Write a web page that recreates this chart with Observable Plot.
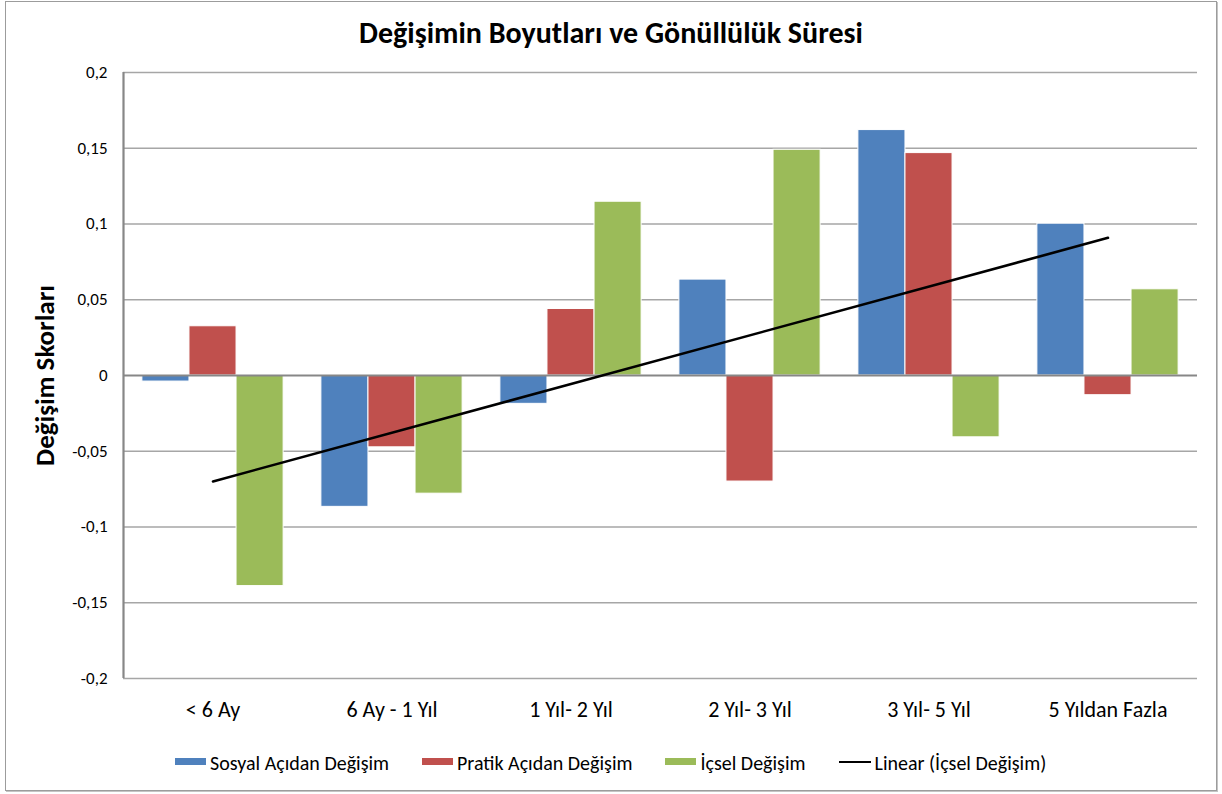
<!DOCTYPE html>
<html>
<head>
<meta charset="utf-8">
<script src="https://cdn.jsdelivr.net/npm/d3@7"></script>
<script src="https://cdn.jsdelivr.net/npm/@observablehq/plot@0.6"></script>
<style>
  html, body { margin: 0; padding: 0; background: #fff; }
  body { font-family: Carlito, Lato, sans-serif; }
  #wrap { position: relative; width: 1222px; height: 794px; overflow: hidden; background: #fff; }
  #frame { position: absolute; left: 5px; top: 1px; width: 1210px; height: 788px; border: 1px solid #9c9c9c; box-shadow: 1px 1px 0 #c4c4c4; }
  #title { position: absolute; left: 5px; top: 15px; width: 1212px; text-align: center; font-size: 30px; font-weight: bold; line-height: 36px; color: #000; }
  #chart { position: absolute; left: 0; top: 55px; }
  #legend { position: absolute; left: 175px; top: 751px; display: flex; align-items: center; font-size: 20px; color: #000; white-space: nowrap; }
  .item { display: flex; align-items: center; margin-right: 33px; }
  .sw { width: 31px; height: 7px; margin-right: 4px; margin-top: -3px; }
  .ln { width: 32px; height: 2.5px; background: #000; margin-right: 4px; margin-top: -2px; }
</style>
</head>
<body>
<div id="wrap">
  <div id="frame"></div>
  <div id="title">Değişimin Boyutları ve Gönüllülük Süresi</div>
  <div id="chart"></div>
  <div id="legend"></div>
</div>
<script>
// ---- data ----
const categories = ["< 6 Ay", "6 Ay - 1 Yıl", "1 Yıl- 2 Yıl", "2 Yıl- 3 Yıl", "3 Yıl- 5 Yıl", "5 Yıldan Fazla"];
const seriesNames = ["Sosyal Açıdan Değişim", "Pratik Açıdan Değişim", "İçsel Değişim"];
const sosyal = [-0.004, -0.0867, -0.0187, 0.0633, 0.162, 0.1002];
const pratik = [0.0325, -0.0474, 0.0439, -0.070, 0.1468, -0.013];
const icsel  = [-0.139, -0.078, 0.1147, 0.149, -0.0408, 0.0569];
const yTicks = [-0.2, -0.15, -0.1, -0.05, 0, 0.05, 0.1, 0.15, 0.2];
const trendName = "Linear (İçsel Değişim)";
const colors = ["#4f81bd", "#c0504d", "#9bbb59"];

// ---- build table ----
const seriesValues = [sosyal, pratik, icsel];
const barW = 0.263;
const rows = [];
seriesValues.forEach((vals, k) => {
  vals.forEach((v, i) => {
    const c = i + 1;
    rows.push({series: seriesNames[k], k, cat: c, x1: c - 1.5 * barW + k * barW, x2: c - 1.5 * barW + (k + 1) * barW, value: v});
  });
});

// linear trend of İçsel Değişim (least squares over category index)
const xs = icsel.map((_, i) => i + 1);
const mx = d3.mean(xs), my = d3.mean(icsel);
const slope = d3.sum(xs, (x, i) => (x - mx) * (icsel[i] - my)) / d3.sum(xs, x => (x - mx) ** 2);
const intercept = my - slope * mx;
const trend = [1, categories.length].map(x => ({x, y: intercept + slope * x}));

const fmt = d => String(d).replace(".", ",");
const idx = categories.map((_, i) => i + 1);

const plot = Plot.plot({
  width: 1222,
  height: 690,
  marginLeft: 123,
  marginRight: 25,
  marginTop: 17,
  marginBottom: 67,
  style: {fontFamily: "Carlito, Lato, sans-serif", background: "transparent"},
  x: {type: "linear", domain: [0.5, categories.length + 0.5], axis: null},
  y: {domain: [-0.2, 0.2], axis: null},
  color: {domain: seriesNames, range: colors},
  marks: [
    Plot.ruleY(yTicks.filter(d => d !== 0), {y: d => d, stroke: "#a6a6a6", strokeWidth: 1.5}),
    Plot.rectY(rows, {x1: "x1", x2: "x2", y1: 0, y2: "value", fill: "series", stroke: "white", strokeWidth: 1}),
    Plot.ruleY([0], {stroke: "#878787", strokeWidth: 2.2}),
    Plot.ruleX([0.5], {y1: -0.2, y2: 0.2, stroke: "#878787", strokeWidth: 2.2}),
    Plot.line(trend, {x: "x", y: "y", stroke: "#000", strokeWidth: 2.6}),
    Plot.text(yTicks, {y: d => d, frameAnchor: "left", dx: -16, textAnchor: "end", text: fmt, fontSize: 17, fill: "#000"}),
    Plot.text(idx, {x: d => d, frameAnchor: "bottom", dy: 38, text: d => categories[d - 1], fontSize: 22, fill: "#000"}),
    Plot.text(["Değişim Skorları"], {frameAnchor: "left", dx: -78, rotate: -90, textAnchor: "middle", text: d => d, fontSize: 27, fontWeight: "bold", fill: "#000"})
  ]
});
document.getElementById("chart").appendChild(plot);

// legend
const legend = document.getElementById("legend");
seriesNames.forEach((name, k) => {
  const it = document.createElement("div");
  it.className = "item";
  it.innerHTML = `<span class="sw" style="background:${colors[k]}"></span><span>${name}</span>`;
  legend.appendChild(it);
});
const tl = document.createElement("div");
tl.className = "item";
tl.innerHTML = `<span class="ln"></span><span>${trendName}</span>`;
legend.appendChild(tl);
</script>
</body>
</html>
